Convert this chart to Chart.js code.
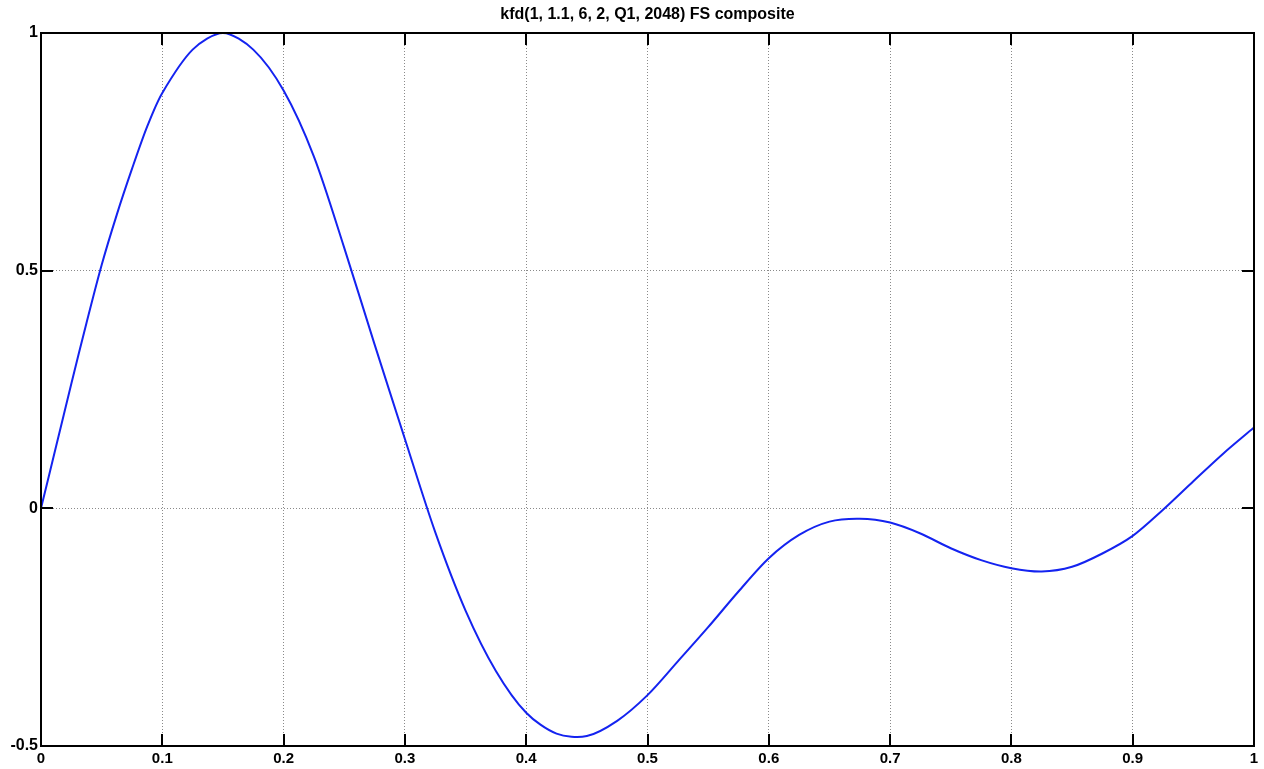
<!DOCTYPE html>
<html>
<head>
<meta charset="utf-8">
<script src="https://cdn.jsdelivr.net/npm/chart.js@4.4.1/dist/chart.umd.min.js"></script>
<style>
  html, body { margin: 0; padding: 0; background: #fff; }
  #wrap { width: 1264px; height: 769px; }
</style>
</head>
<body>
<div id="wrap"><canvas id="grafico"></canvas></div>
<script>
// Dados
const xValores = [0, 0.0125, 0.025, 0.0375, 0.05, 0.0625, 0.075, 0.0875, 0.1, 0.125, 0.15, 0.175, 0.2, 0.225, 0.25, 0.275, 0.3, 0.325, 0.35, 0.375, 0.4, 0.425, 0.45, 0.475, 0.5, 0.525, 0.55, 0.575, 0.6, 0.625, 0.65, 0.675, 0.7, 0.725, 0.75, 0.775, 0.8, 0.825, 0.85, 0.875, 0.9, 0.925, 0.95, 0.975, 1];
const yValores = [0, 0.131, 0.262, 0.39, 0.512, 0.618, 0.714, 0.803, 0.874, 0.965, 1.0, 0.965, 0.879, 0.74, 0.548, 0.345, 0.146, -0.05, -0.215, -0.342, -0.43, -0.474, -0.479, -0.447, -0.393, -0.322, -0.25, -0.175, -0.105, -0.056, -0.028, -0.022, -0.03, -0.053, -0.084, -0.109, -0.126, -0.133, -0.123, -0.095, -0.058, -0.003, 0.057, 0.116, 0.17];
const ticksX = [0, 0.1, 0.2, 0.3, 0.4, 0.5, 0.6, 0.7, 0.8, 0.9, 1];
const ticksY = [-0.5, 0, 0.5, 1];
const titulo = 'kfd(1, 1.1, 6, 2, Q1, 2048) FS composite';

const fonte = "'Liberation Sans', Arial, Helvetica, sans-serif";

// Moldura e marcas de escala voltadas para dentro
const molduraPlugin = {
    id: 'moldura',
    afterDraw(chart) {
        const ctx = chart.ctx;
        const a = chart.chartArea;
        const sx = chart.scales.x, sy = chart.scales.y;
        const L = 12;
        ctx.save();
        ctx.strokeStyle = '#000';
        ctx.lineWidth = 2;
        ctx.beginPath();
        ticksX.forEach(v => {
            const px = Math.round(sx.getPixelForValue(v));
            ctx.moveTo(px, a.bottom); ctx.lineTo(px, a.bottom - L);
            ctx.moveTo(px, a.top); ctx.lineTo(px, a.top + L);
        });
        ticksY.forEach(v => {
            const py = Math.round(sy.getPixelForValue(v));
            ctx.moveTo(a.left, py); ctx.lineTo(a.left + L, py);
            ctx.moveTo(a.right, py); ctx.lineTo(a.right - L, py);
        });
        ctx.stroke();
        ctx.strokeRect(a.left, a.top, a.right - a.left, a.bottom - a.top);
        ctx.restore();
    }
};

function rotulo(v) {
    return String(Math.round(v * 10) / 10);
}

document.addEventListener('DOMContentLoaded', function() {
    const ctx = document.getElementById('grafico').getContext('2d');
    new Chart(ctx, {
        type: 'line',
        data: {
            datasets: [{
                data: xValores.map((x, i) => ({ x: x, y: yValores[i] })),
                borderColor: 'rgb(20, 35, 240)',
                borderWidth: 2,
                pointRadius: 0,
                tension: 0.3,
                fill: false
            }]
        },
        options: {
            responsive: true,
            maintainAspectRatio: false,
            animation: false,
            layout: { padding: { left: 0, right: 10, top: 0, bottom: 0 } },
            plugins: {
                legend: { display: false },
                tooltip: { enabled: false },
                title: {
                    display: true,
                    text: titulo,
                    fullSize: false,
                    color: '#000',
                    font: { family: fonte, size: 16, weight: 'bold', lineHeight: 1.2 },
                    padding: { top: 5, bottom: 8.8 }
                }
            },
            scales: {
                x: {
                    type: 'linear',
                    min: 0,
                    max: 1,
                    afterBuildTicks: s => { s.ticks = ticksX.map(v => ({ value: v })); },
                    afterFit: s => { s.height = 23; },
                    grid: { color: '#8a8a8a', lineWidth: 1, drawTicks: false },
                    border: { display: false, dash: [1, 2] },
                    ticks: {
                        color: '#000',
                        padding: 4,
                        maxRotation: 0,
                        font: { family: fonte, size: 15, weight: 'bold' },
                        callback: v => rotulo(v)
                    }
                },
                y: {
                    type: 'linear',
                    min: -0.5,
                    max: 1,
                    afterBuildTicks: s => { s.ticks = ticksY.map(v => ({ value: v })); },
                    afterFit: s => { s.width = 41; },
                    grid: { color: '#8a8a8a', lineWidth: 1, drawTicks: false },
                    border: { display: false, dash: [1, 2] },
                    ticks: {
                        color: '#000',
                        padding: 3,
                        font: { family: fonte, size: 16, weight: 'bold' },
                        callback: v => rotulo(v)
                    }
                }
            }
        },
        plugins: [molduraPlugin]
    });
});
</script>
</body>
</html>
